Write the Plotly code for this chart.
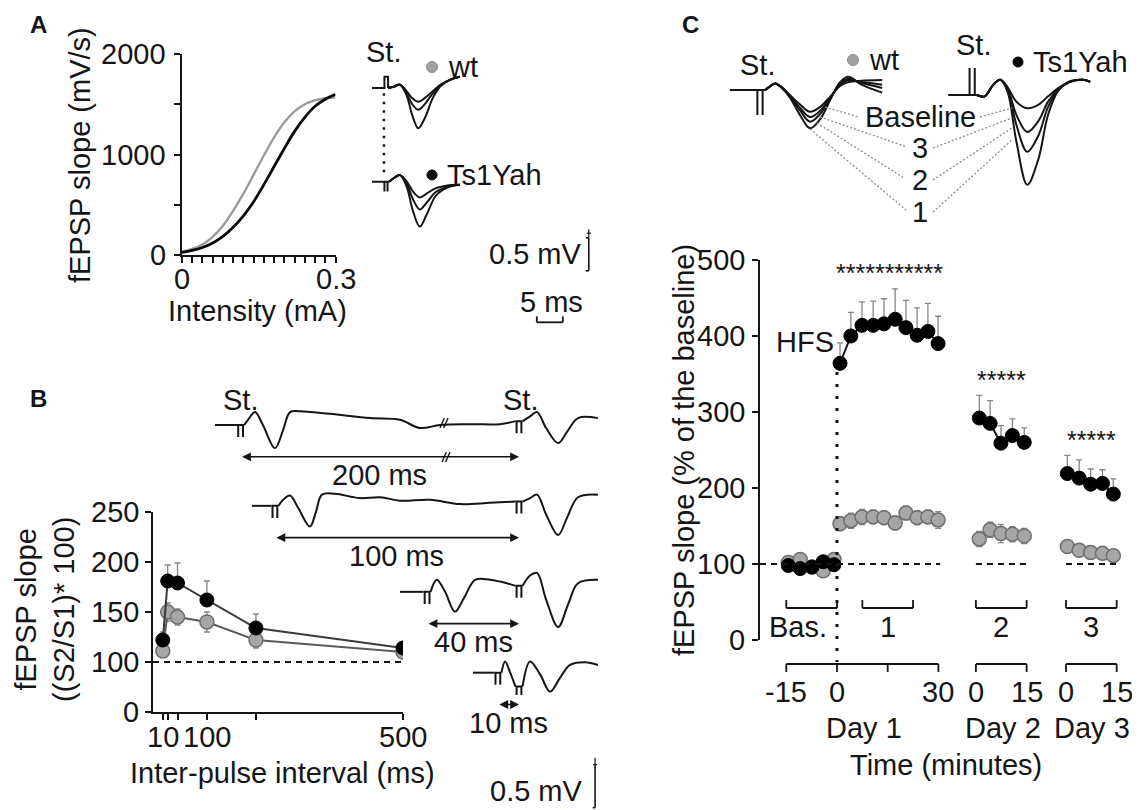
import plotly.graph_objects as go

# The page body has an 8 px margin: the figure is sized and offset so that
# reference pixel coordinates land at the same place in the 1140x810 window.
PAGE_OFF = 8
W, H = 1140 - PAGE_OFF, 810 - PAGE_OFF
FONT = "Liberation Sans, Arial, Helvetica, sans-serif"
FS = 29
INK = "#151515"
GRAY_FILL = "#a6a6a6"
GRAY_EDGE = "#6e6e6e"
ERR_COL = "#858585"

# ---------------- Panel A: input/output curves ----------------
intensity_mA = [0.00, 0.02, 0.04, 0.06, 0.08, 0.10, 0.12, 0.14, 0.16, 0.18, 0.20, 0.22, 0.24, 0.26, 0.28, 0.30]
io_wt = [35, 60, 105, 180, 290, 440, 610, 800, 990, 1170, 1320, 1430, 1500, 1540, 1560, 1570]
io_ts = [25, 45, 75, 120, 185, 275, 390, 530, 700, 880, 1060, 1230, 1370, 1480, 1550, 1600]
a_xtick_vals = [0.00, 0.02, 0.04, 0.06, 0.08, 0.10, 0.12, 0.14, 0.16, 0.18, 0.20, 0.22, 0.24, 0.26, 0.28, 0.30]
a_xtick_labels = {0.0: "0", 0.3: "0.3"}
a_ytick_vals = [0, 500, 1000, 1500, 2000]
a_ytick_labels = {0: "0", 1000: "1000", 2000: "2000"}

# Panel A example traces (ms, mV) relative to stimulus
a_wt_pre_t = [-2.7, -0.3, -0.3, 0.4, 0.4]
a_wt_pre_v = [0, 0, 0.17, 0.17, 0]
a_wt_resp_t = [0.4, 1.5, 2.7, 4.0, 5.0, 6.2, 7.5, 9.0, 10.5, 12.5, 14.2]
a_wt_resp_v = [
    [0, 0.02, 0.05, -0.05, -0.15, -0.21, -0.15, -0.05, 0.05, 0.13, 0.17],
    [0, 0.02, 0.05, -0.08, -0.24, -0.33, -0.24, -0.08, 0.04, 0.13, 0.17],
    [0, 0.02, 0.05, -0.12, -0.40, -0.61, -0.45, -0.15, 0.03, 0.13, 0.17],
]
a_ts_pre_t = [-2.7, -0.6, -0.3, -0.3, -0.3, 0.3, 0.3, 0.3, 0.6]
a_ts_pre_v = [0, 0, 0, -0.15, 0, 0, -0.15, 0, 0]
a_ts_resp_t = [0.6, 1.6, 2.7, 4.0, 5.2, 6.5, 7.8, 9.5, 11.0, 12.5, 14.2]
a_ts_resp_v = [
    [0, 0.06, 0.10, 0.00, -0.15, -0.24, -0.18, -0.10, -0.07, -0.05, -0.045],
    [0, 0.06, 0.10, -0.03, -0.27, -0.42, -0.32, -0.16, -0.10, -0.06, -0.045],
    [0, 0.06, 0.10, -0.08, -0.45, -0.68, -0.50, -0.22, -0.12, -0.07, -0.045],
]
A_TS_OFFSET_MV = -1.42

# ---------------- Panel B: paired-pulse facilitation ----------------
ipi_ms = [10, 20, 40, 100, 200, 500]
ppf_ts = [122, 181, 179, 162, 134, 114]
ppf_ts_err = [8, 16, 20, 19, 14, 3]
ppf_wt = [111, 150, 145, 140, 122, 110]
ppf_wt_err = [5, 9, 8, 10, 8, 3]
b_xtick_vals = [10, 20, 40, 100, 200, 500]
b_xtick_labels = {10: "10", 100: "100", 500: "500"}
b_ytick_vals = [50, 100, 150, 200, 250]
b_ytick_text = ["0", "100", "150", "200", "250"]   # broken axis: 0 then 100

# Panel B example traces (ms relative to 2nd stimulus, mV)
b_labels = ["200 ms", "100 ms", "40 ms", "10 ms"]
b_stim1 = [-116.0, -101.7, -38.3, -8.8]
b_offset = [0.0, -0.94, -1.94, -2.88]
b_pre_t = [[-126.7, -117.5], [-111.3, -103.2], [-49.6, -39.8], [-19.2, -10.3]]
b_resp1_t = [
    [-114.5, -112.9, -110.0, -106.7, -101.7, -98.3, -95.4, -91.3, -78.8, -62.0, -49.6, -41.3, -32.9, -20.4, -7.9, -1.5],
    [-100.2, -98.3, -95.4, -92.1, -87.1, -84.6, -82.1, -76.7, -66.3, -57.9, -49.6, -37.1, -24.6, -12.1, -1.5],
    [-36.8, -35.8, -34.2, -30.8, -26.7, -22.9, -18.3, -12.1, -3.8, -1.5],
    [-7.3, -5.8, -3.8, -1.5],
]
b_resp1_v = [
    [0, 0.06, 0.15, 0.0, -0.27, -0.06, 0.15, 0.16, 0.13, 0.08, 0.06, -0.035, 0.0, 0.01, 0.01, 0.045],
    [0, 0.07, 0.12, -0.02, -0.24, -0.07, 0.13, 0.14, 0.09, 0.10, 0.06, 0.07, 0.02, 0.035, 0.05],
    [0, 0.08, 0.14, 0.0, -0.23, -0.07, 0.14, 0.14, 0.09, 0.07],
    [0, 0.13, 0.01, -0.16],
]
b_resp2_t = [
    [1.5, 4.6, 7.5, 11.3, 16.3, 20.0, 24.6, 32.9],
    [1.5, 4.6, 7.5, 11.3, 16.3, 20.0, 24.6, 32.9],
    [1.5, 4.6, 7.5, 11.3, 16.3, 20.4, 24.6, 32.9],
    [1.5, 4.6, 8.8, 12.9, 17.1, 21.3, 27.5, 32.9],
]
b_resp2_v = [
    [0.045, 0.10, 0.15, -0.035, -0.21, -0.08, 0.08, 0.08],
    [0.05, 0.09, 0.13, -0.10, -0.34, -0.14, 0.10, 0.13],
    [0.07, 0.19, 0.22, -0.09, -0.41, -0.15, 0.10, 0.14],
    [-0.16, 0.13, -0.02, -0.22, -0.06, 0.09, 0.12, 0.09],
]

# ---------------- Panel C: LTP time course ----------------
c_bas_t = [-14.4, -10.9, -7.4, -4.1, -0.9]
c_day1_t = [0.9, 4.1, 7.4, 10.7, 13.9, 17.2, 20.4, 23.7, 26.9, 29.9]
c_day2_t = [1.0, 4.2, 7.4, 10.8, 14.3]
c_day3_t = [0.4, 3.9, 7.3, 10.8, 14.0]
ts_bas = [98, 94, 96, 103, 99]
ts_bas_err = [6, 6, 7, 6, 6]
wt_bas = [102, 106, 96, 91, 106]
wt_bas_err = [8, 8, 8, 8, 8]
ts_day1 = [364, 400, 414, 414, 416, 422, 411, 401, 406, 390]
ts_day1_err = [27, 31, 31, 32, 33, 40, 36, 36, 37, 36]
wt_day1 = [153, 157, 162, 162, 161, 154, 167, 161, 162, 158]
wt_day1_err = [9, 10, 10, 9, 9, 9, 9, 9, 9, 11]
ts_day2 = [292, 285, 259, 269, 260]
ts_day2_err = [30, 30, 23, 22, 19]
wt_day2 = [133, 145, 140, 139, 137]
wt_day2_err = [10, 10, 12, 10, 10]
ts_day3 = [219, 213, 205, 206, 192]
ts_day3_err = [24, 24, 20, 18, 20]
wt_day3 = [123, 118, 115, 114, 111]
wt_day3_err = [7, 8, 8, 8, 8]
DAY2_OFFSET = 41.1
DAY3_OFFSET = 67.75
c_ytick_vals = [0, 100, 200, 300, 400, 500]

# Panel C example traces (ms, mV)
c_trace_names = ["Baseline", "3", "2", "1"]
c_wt_pre_t = [-5.8, -1.0, -0.5, -0.5, -0.5, 0.5, 0.5, 0.5, 1.0]
c_wt_pre_v = [0, 0, 0, -0.38, 0, 0, -0.38, 0, 0]
c_wt_resp_t = [1.0, 2.0, 2.9, 4.2, 5.8, 7.7, 9.6, 11.5, 13.5, 15.4, 17.0, 19.5, 23.5]
c_wt_resp_v = [
    [0, 0.06, 0.10, 0.04, -0.08, -0.22, -0.33, -0.26, -0.10, 0.06, 0.12, 0.14, 0.15],
    [0, 0.06, 0.10, 0.04, -0.09, -0.27, -0.41, -0.32, -0.12, 0.08, 0.15, 0.12, 0.08],
    [0, 0.06, 0.10, 0.04, -0.10, -0.31, -0.48, -0.37, -0.13, 0.10, 0.17, 0.11, 0.03],
    [0, 0.06, 0.10, 0.03, -0.12, -0.38, -0.58, -0.45, -0.15, 0.12, 0.20, 0.08, -0.04],
]
c_ts_pre_t = [-4.6, -0.9, -0.5, -0.5, -0.5, 0.5, 0.5, 0.5, 0.9]
c_ts_pre_v = [0, 0, 0, 0.41, 0, 0, 0.41, 0, 0]
c_ts_resp_t = [0.9, 2.4, 4.0, 5.4, 6.8, 8.5, 10.6, 12.7, 14.6, 16.5, 18.8, 21.3, 22.7]
c_ts_resp_v = [
    [0, -0.02, 0.15, 0.23, 0.12, -0.10, -0.20, -0.15, -0.02, 0.10, 0.20, 0.23, 0.20],
    [0, -0.02, 0.15, 0.23, 0.10, -0.30, -0.56, -0.40, -0.10, 0.08, 0.20, 0.23, 0.20],
    [0, -0.02, 0.15, 0.23, 0.08, -0.45, -0.86, -0.62, -0.18, 0.07, 0.20, 0.23, 0.20],
    [0, -0.02, 0.15, 0.23, 0.05, -0.70, -1.36, -0.98, -0.30, 0.06, 0.21, 0.23, 0.20],
]
C_TS_T_OFFSET = 40.8
C_TS_V_OFFSET = -0.076

# =====================================================================
fig = go.Figure()
shapes, anns = [], []


def PX(x):
    return (x - PAGE_OFF) / W


def PY(y):
    return 1 - (y - PAGE_OFF) / H


def txt(x, y, s, size=FS, xanchor="center", yanchor="middle", xref="paper", yref="paper", angle=0, color=INK):
    if xref == "paper":
        x = PX(x)
    if yref == "paper":
        y = PY(y)
    anns.append(dict(x=x, y=y, xref=xref, yref=yref, text=s, showarrow=False,
                     font=dict(family=FONT, size=size, color=color),
                     xanchor=xanchor, yanchor=yanchor, textangle=angle))


def seg(x0, y0, x1, y1, xref="paper", yref="paper", width=1.5, color=INK, dash="solid"):
    if xref == "paper":
        x0, x1 = PX(x0), PX(x1)
    if yref == "paper":
        y0, y1 = PY(y0), PY(y1)
    shapes.append(dict(type="line", xref=xref, yref=yref, x0=x0, y0=y0, x1=x1, y1=y1,
                       line=dict(color=color, width=width, dash=dash), layer="above"))


def wave(xs, ys, ax, smooth=True, width=2.0, color=INK):
    ln = dict(color=color, width=width)
    if smooth:
        ln.update(shape="spline", smoothing=1.0)
    fig.add_trace(go.Scatter(x=xs, y=ys, mode="lines", line=ln, xaxis="x" + ax, yaxis="y" + ax,
                             hoverinfo="skip", showlegend=False))


def strokes(tc, vb, half, amp, ext=0.5):
    return ([tc - half - ext, tc - half, tc - half, tc - half, tc + half, tc + half, tc + half, tc + half + ext],
            [vb, vb, vb + amp, vb, vb, vb + amp, vb, vb])


layout_axes = {}


def inset(idx, box, origin, sx, sy):
    px0, px1, py0, py1 = box
    ox, oy = origin
    layout_axes["xaxis%d" % idx] = dict(domain=[PX(px0), PX(px1)], range=[(px0 - ox) / sx, (px1 - ox) / sx],
                                        visible=False, anchor="y%d" % idx, fixedrange=True, automargin=False)
    layout_axes["yaxis%d" % idx] = dict(domain=[PY(py1), PY(py0)], range=[(oy - py1) / sy, (oy - py0) / sy],
                                        visible=False, anchor="x%d" % idx, fixedrange=True, automargin=False)


axis_common = dict(showline=True, linewidth=1.6, linecolor=INK, ticks="outside", ticklen=6, tickwidth=1.6,
                   tickcolor=INK, showgrid=False, zeroline=False, fixedrange=True, automargin=False,
                   showticklabels=False)

# ---------------- Panel A plot ----------------
fig.add_trace(go.Scatter(x=intensity_mA, y=io_wt, mode="lines", xaxis="x", yaxis="y",
                         line=dict(color="#9b9b9b", width=2.4, shape="spline"), showlegend=False))
fig.add_trace(go.Scatter(x=intensity_mA, y=io_ts, mode="lines", xaxis="x", yaxis="y",
                         line=dict(color="#0a0a0a", width=2.8, shape="spline"), showlegend=False))
layout_axes["xaxis"] = dict(domain=[PX(182), PX(335.5)], range=[0, 0.3], tickmode="array",
                            tickvals=a_xtick_vals, anchor="y", **axis_common)
layout_axes["yaxis"] = dict(domain=[PY(255), PY(54)], range=[0, 2000], tickmode="array",
                            tickvals=a_ytick_vals, anchor="x", **axis_common)
for v, s in a_xtick_labels.items():
    txt(v, 279, s, xref="x")
for v, s in a_ytick_labels.items():
    txt(168, v, s, xanchor="right", yref="y")
txt(38, 9, "<b>A</b>", size=24, yanchor="top")
txt(80, 155, "fEPSP slope (mV/s)", angle=-90)
txt(258, 311, "Intensity (mA)")

# Panel A traces inset (origin = wt stimulus)
inset(4, (360, 600, 35, 335), (386, 88), 5.2, 66.0)
wave(a_wt_pre_t, a_wt_pre_v, "4", smooth=False)
for v in a_wt_resp_v:
    wave(a_wt_resp_t, v, "4")
wave(a_ts_pre_t, [x + A_TS_OFFSET_MV for x in a_ts_pre_v], "4", smooth=False)
for v in a_ts_resp_v:
    wave(a_ts_resp_t, [x + A_TS_OFFSET_MV for x in v], "4")
seg(-0.4, -0.08, -0.4, -1.29, xref="x4", yref="y4", width=2.5, dash="2.5px,6px")
txt(383, 52, "St.")
shapes.append(dict(type="circle", xref="paper", yref="paper", x0=PX(426.5), x1=PX(437.5), y0=PY(61.5), y1=PY(72.5),
                   fillcolor="#a0a0a0", line=dict(color="#8a8a8a", width=1)))
txt(446, 67, "wt", xanchor="left")
shapes.append(dict(type="circle", xref="paper", yref="paper", x0=PX(427), x1=PX(437), y0=PY(170), y1=PY(180),
                   fillcolor="#000", line=dict(color="#000", width=1)))
txt(445, 175, "Ts1Yah", xanchor="left")
# scale bars (0.5 mV, 5 ms)
seg(39.0, -2.27, 39.0, -2.77, xref="x4", yref="y4", width=1.6)
seg(38.4, -2.27, 39.0, -2.27, xref="x4", yref="y4", width=1.6)
seg(38.4, -2.77, 39.0, -2.77, xref="x4", yref="y4", width=1.6)
seg(38.6, -2.20, 39.4, -2.20, xref="x4", yref="y4", width=1.2)
seg(39.0, -2.14, 39.0, -2.27, xref="x4", yref="y4", width=1.2)
txt(584, 254, "0.5 mV", xanchor="right")
seg(29.0, -3.55, 34.0, -3.55, xref="x4", yref="y4", width=1.8)
seg(29.0, -3.55, 29.0, -3.46, xref="x4", yref="y4", width=1.8)
seg(34.0, -3.55, 34.0, -3.46, xref="x4", yref="y4", width=1.8)
txt(551, 302, "5 ms")

# ---------------- Panel B plot ----------------
fig.add_trace(go.Scatter(x=ipi_ms, y=ppf_wt, mode="lines+markers", xaxis="x2", yaxis="y2", showlegend=False,
                         line=dict(color="#5a5a5a", width=2),
                         marker=dict(size=14, color=GRAY_FILL, line=dict(color=GRAY_EDGE, width=1.5)),
                         error_y=dict(type="data", array=ppf_wt_err, color=ERR_COL, thickness=1.3, width=3)))
fig.add_trace(go.Scatter(x=ipi_ms, y=ppf_ts, mode="lines+markers", xaxis="x2", yaxis="y2", showlegend=False,
                         line=dict(color="#3a3a3a", width=2),
                         marker=dict(size=14, color="#000", line=dict(color="#000", width=1)),
                         error_y=dict(type="data", symmetric=False, array=ppf_ts_err, arrayminus=[0] * len(ppf_ts),
                                      color=ERR_COL, thickness=1.3, width=3)))
layout_axes["xaxis2"] = dict(domain=[PX(153), PX(403)], range=[-10, 500], tickmode="array",
                             tickvals=b_xtick_vals, anchor="y2", **axis_common)
layout_axes["yaxis2"] = dict(domain=[PY(712), PY(512)], range=[50, 250], tickmode="array",
                             tickvals=b_ytick_vals, anchor="x2", **axis_common)
for v, s in b_xtick_labels.items():
    txt(v, 737, s, xref="x2")
for v, s in zip(b_ytick_vals, b_ytick_text):
    txt(141, v, s, xanchor="right", yref="y2")
seg(-10, 100, 500, 100, xref="x2", yref="y2", width=2, dash="6px,5px")
txt(38, 398, "<b>B</b>", size=24)
txt(45, 610, "fEPSP slope<br>((S2/S1)* 100)", angle=-90)
txt(282, 773, "Inter-pulse interval (ms)")

# Panel B traces inset (origin = 2nd stimulus of the top trace)
inset(5, (200, 612, 380, 810), (519, 425), 2.4, 86.0)
for i in range(4):
    off = b_offset[i]
    wave(b_pre_t[i], [off, off], "5", smooth=False)
    at, av = strokes(b_stim1[i], off, 1.0, -0.14)
    wave(at, av, "5", smooth=False)
    wave(b_resp1_t[i], [x + off for x in b_resp1_v[i]], "5")
    vb2 = b_resp1_v[i][-1] + off
    at, av = strokes(0.0, vb2, 1.0, -0.14 if i < 3 else -0.1)
    wave(at, av, "5", smooth=False)
    wave(b_resp2_t[i], [x + off for x in b_resp2_v[i]], "5")
    va = off - 0.37
    anns.append(dict(x=0, y=va, ax=b_stim1[i], ay=va, xref="x5", yref="y5", axref="x5", ayref="y5",
                     text="", showarrow=True, arrowhead=2, arrowside="end+start", arrowsize=1.1,
                     arrowwidth=1.6, arrowcolor=INK, standoff=0, startstandoff=0))
    txt(b_stim1[i] / 2.0, off - 0.585, b_labels[i], xref="x5", yref="y5")
txt(b_stim1[0], 0.29, "St.", xref="x5", yref="y5")
txt(0.8, 0.29, "St.", xref="x5", yref="y5")
# break marks on the 200 ms trace and arrow
for (bx, by) in [(444, 423), (446, 457)]:
    for dx in (-1.8, 1.8):
        seg(bx + dx - 2.2, by + 5, bx + dx + 2.2, by - 5, width=1.4)
# 0.5 mV scale bar
seg(31.7, -3.95, 31.7, -4.45, xref="x5", yref="y5", width=1.6)
seg(30.7, -4.45, 31.7, -4.45, xref="x5", yref="y5", width=1.6)
seg(30.9, -3.95, 32.5, -3.95, xref="x5", yref="y5", width=1.2)
seg(31.7, -3.87, 31.7, -3.95, xref="x5", yref="y5", width=1.2)
txt(585, 791, "0.5 mV", xanchor="right")

# ---------------- Panel C plot ----------------
segments = [
    (c_bas_t, 0.0, wt_bas, wt_bas_err, ts_bas, ts_bas_err),
    (c_day1_t, 0.0, wt_day1, wt_day1_err, ts_day1, ts_day1_err),
    (c_day2_t, DAY2_OFFSET, wt_day2, wt_day2_err, ts_day2, ts_day2_err),
    (c_day3_t, DAY3_OFFSET, wt_day3, wt_day3_err, ts_day3, ts_day3_err),
]
for (tt, off, wv, we, tv, te) in segments:
    fig.add_trace(go.Scatter(x=[t + off for t in tt], y=wv, mode="lines+markers", xaxis="x3", yaxis="y3",
                             showlegend=False, line=dict(color="#5a5a5a", width=1.8),
                             marker=dict(size=14, color=GRAY_FILL, line=dict(color=GRAY_EDGE, width=1.5)),
                             error_y=dict(type="data", array=we, color=ERR_COL, thickness=1.3, width=3)))
for (tt, off, wv, we, tv, te) in segments:
    fig.add_trace(go.Scatter(x=[t + off for t in tt], y=tv, mode="lines+markers", xaxis="x3", yaxis="y3",
                             showlegend=False, line=dict(color="#111", width=2),
                             marker=dict(size=14, color="#000", line=dict(color="#000", width=1)),
                             error_y=dict(type="data", symmetric=False, array=te, arrayminus=[0] * len(te),
                                          color=ERR_COL, thickness=1.3, width=3)))
c_left = (760 - 837) / 3.38
c_right = (1135 - 837) / 3.38
layout_axes["xaxis3"] = dict(domain=[PX(760), PX(1135)], range=[c_left, c_right], visible=False,
                             anchor="y3", fixedrange=True, automargin=False)
layout_axes["yaxis3"] = dict(domain=[PY(640), PY(260)], range=[0, 500], tickmode="array",
                             tickvals=c_ytick_vals, anchor="x3", **axis_common)
for v in c_ytick_vals:
    txt(747, v, str(v), xanchor="right", yref="y3")
# dashed baseline 100 %
seg(c_left, 100, 30.5, 100, xref="x3", yref="y3", width=2, dash="6px,5px")
seg(DAY2_OFFSET, 100, DAY2_OFFSET + 15, 100, xref="x3", yref="y3", width=2, dash="6px,5px")
seg(DAY3_OFFSET, 100, DAY3_OFFSET + 15, 100, xref="x3", yref="y3", width=2, dash="6px,5px")
# HFS dotted line
seg(0, 372, 0, 662, xref="x3", yref="paper", width=3, dash="3px,9px")
txt(805, 342, "HFS")
# stars
txt(889, 273, "***********", size=25)
txt(DAY2_OFFSET + 7.5, 380, "*****", size=25, xref="x3")
txt(DAY3_OFFSET + 7.5, 440, "*****", size=25, xref="x3")
# period brackets
for (a, b) in [(-15, 0), (7.5, 22.5), (DAY2_OFFSET, DAY2_OFFSET + 15), (DAY3_OFFSET, DAY3_OFFSET + 15)]:
    seg(a, 608, b, 608, xref="x3", yref="paper", width=1.8)
    seg(a, 608, a, 600, xref="x3", yref="paper", width=1.8)
    seg(b, 608, b, 600, xref="x3", yref="paper", width=1.8)
txt(798, 627, "Bas.")
txt(15, 627, "1", xref="x3")
txt(DAY2_OFFSET + 7.5, 627, "2", xref="x3")
txt(DAY3_OFFSET + 7.5, 627, "3", xref="x3")
# day time axes
day_axes = [(-15, 30, [-15, 0, 15, 30], {-15: "-15", 0: "0", 30: "30"}),
            (DAY2_OFFSET, DAY2_OFFSET + 15, [DAY2_OFFSET, DAY2_OFFSET + 15], {DAY2_OFFSET: "0", DAY2_OFFSET + 15: "15"}),
            (DAY3_OFFSET, DAY3_OFFSET + 15, [DAY3_OFFSET, DAY3_OFFSET + 15], {DAY3_OFFSET: "0", DAY3_OFFSET + 15: "15"})]
for (a, b, tks, labs) in day_axes:
    seg(a, 664, b, 664, xref="x3", yref="paper", width=1.8)
    for t in tks:
        seg(t, 664, t, 672, xref="x3", yref="paper", width=1.8)
    for t, s in labs.items():
        txt(t, 692, s, xref="x3")
txt(864, 728, "Day 1")
txt(1003, 728, "Day 2")
txt(1092, 728, "Day 3")
txt(946, 765, "Time (minutes)")
txt(684, 450, "fEPSP slope (% of the baseline)", angle=-90)
txt(690, 9, "<b>C</b>", size=24, yanchor="top")

# Panel C traces inset
inset(6, (715, 1140, 30, 235), (760, 90), 5.2, 66.0)
wave(c_wt_pre_t, c_wt_pre_v, "6", smooth=False)
for v in c_wt_resp_v:
    wave(c_wt_resp_t, v, "6")
wave([t + C_TS_T_OFFSET for t in c_ts_pre_t], [x + C_TS_V_OFFSET for x in c_ts_pre_v], "6", smooth=False)
for v in c_ts_resp_v:
    wave([t + C_TS_T_OFFSET for t in c_ts_resp_t], [x + C_TS_V_OFFSET for x in v], "6")
txt(757, 65, "St.")
txt(973, 45, "St.")
shapes.append(dict(type="circle", xref="paper", yref="paper", x0=PX(847.5), x1=PX(858.5), y0=PY(54.5), y1=PY(65.5),
                   fillcolor="#a0a0a0", line=dict(color="#8a8a8a", width=1)))
txt(867, 60, "wt", xanchor="left")
shapes.append(dict(type="circle", xref="paper", yref="paper", x0=PX(1013), x1=PX(1023), y0=PY(57), y1=PY(67),
                   fillcolor="#000", line=dict(color="#000", width=1)))
txt(1031, 62, "Ts1Yah", xanchor="left")
label_y = [117, 148, 180, 212]
for name, ly in zip(c_trace_names, label_y):
    txt(920, ly, name)
for (x0, y0, x1, y1) in [(825, 107, 859, 117), (820, 117, 907, 147), (817, 123, 904, 178), (810, 129, 906, 210),
                         (980, 117, 1012, 108), (933, 148, 1012, 118), (933, 180, 1012, 128), (933, 212, 1012, 140)]:
    seg(x0, y0, x1, y1, width=1.3, color="#8c8c8c", dash="2px,2px")

fig.update_layout(template="none", width=W, height=H, margin=dict(l=0, r=0, t=0, b=0, pad=0, autoexpand=False),
                  paper_bgcolor="white", plot_bgcolor="rgba(0,0,0,0)", showlegend=False,
                  shapes=shapes, annotations=anns,
                  font=dict(family=FONT, size=FS, color=INK), **layout_axes)
fig.write_html("out.html")
